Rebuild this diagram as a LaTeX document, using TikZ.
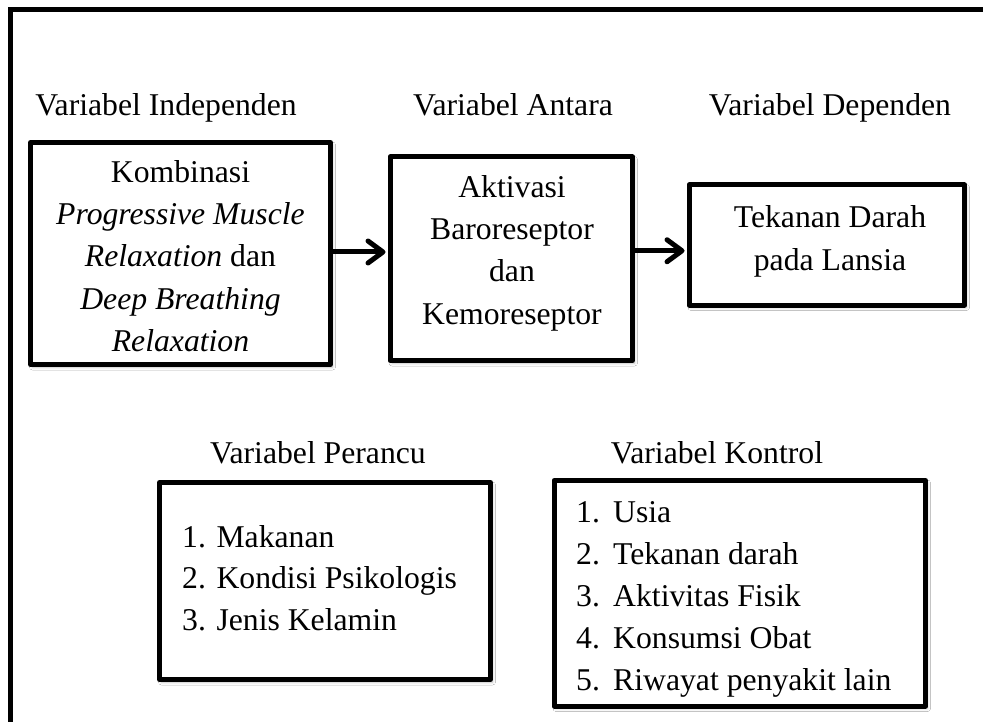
\documentclass[tikz,border=0pt]{standalone}
\usepackage{fontspec}
\setmainfont{Liberation Serif}
\usetikzlibrary{arrows.meta,shadows.blur}
\begin{document}
\begin{tikzpicture}[x=1pt,y=-1pt,
  txt/.style={font=\fontsize{31.7pt}{42pt}\selectfont, inner sep=0pt, anchor=base},
  itm/.style={txt, anchor=base west},
  box/.style={draw=black, line width=5pt, fill=white, inner sep=0pt, rectangle, line join=round,
    blur shadow={shadow xshift=2pt, shadow yshift=-2.5pt, shadow blur radius=3pt, shadow opacity=22}},
  arr/.style={line width=5pt, -{Straight Barb[length=15pt,width=22pt,round]}, shorten >=2pt}]
\useasboundingbox (0,0) rectangle (983,722);
\clip (0,0) rectangle (983,722);
\fill[white] (0,0) rectangle (983,722);
% outer frame (only top and left edges visible)
\draw[line width=5pt, line join=miter] (10,740) -- (10,9.5) -- (1000,9.5);
% boxes
\node[box, minimum width=300pt, minimum height=222pt] (b1) at (180.5,253.5) {};
\node[box, minimum width=242.5pt, minimum height=203.5pt] (b2) at (511.25,258.75) {};
\node[box, minimum width=275.5pt, minimum height=120pt] (b3) at (826.75,245) {};
\node[box, minimum width=331pt, minimum height=197pt] (b4) at (325,581) {};
\node[box, minimum width=371.5pt, minimum height=225.5pt] (b5) at (739.75,593.25) {};
% arrows
\draw[arr] ([yshift=1.5pt]b1.east) -- ([yshift=1.5pt]b1.east -| b2.west);
\draw[arr] ([yshift=8pt]b2.east) -- ([yshift=8pt]b2.east -| b3.west);
% headings
\node[txt] (h1) at (166,116) {Variabel Independen};
\node[txt] (h2) at (513,116) {Variabel Antara};
\node[txt] (h3) at (830,116) {Variabel Dependen};
\node[txt] (h4) at (318,463) {Variabel Perancu};
\node[txt] (h5) at (717,463) {Variabel Kontrol};
% box 1 text
\node[txt] (b1a) at (180.5,183) {Kombinasi};
\node[txt] (b1b) at (180.5,225) {\textit{Progressive Muscle}};
\node[txt] (b1c) at (180.5,267) {\textit{Relaxation} dan};
\node[txt] (b1d) at (180.5,309) {\textit{Deep Breathing}};
\node[txt] (b1e) at (180.5,351) {\textit{Relaxation}};
% box 2 text
\node[txt] (b2a) at (512,198) {Aktivasi};
\node[txt] (b2b) at (512,240) {Baroreseptor};
\node[txt] (b2c) at (512,282) {dan};
\node[txt] (b2d) at (512,324) {Kemoreseptor};
% box 3 text
\node[txt] (b3a) at (830,228) {Tekanan Darah};
\node[txt] (b3b) at (830,270) {pada Lansia};
% box 4 list
\node[itm] (b4a) at (182,547) {1. Makanan};
\node[itm] (b4b) at (182,588) {2. Kondisi Psikologis};
\node[itm] (b4c) at (182,630) {3. Jenis Kelamin};
% box 5 list
\node[itm] (b5a) at (576,522) {\makebox[37pt][l]{1.}Usia};
\node[itm] (b5b) at (576,564) {\makebox[37pt][l]{2.}Tekanan darah};
\node[itm] (b5c) at (576,606) {\makebox[37pt][l]{3.}Aktivitas Fisik};
\node[itm] (b5d) at (576,648) {\makebox[37pt][l]{4.}Konsumsi Obat};
\node[itm] (b5e) at (576,690) {\makebox[37pt][l]{5.}Riwayat penyakit lain};
\end{tikzpicture}
\end{document}
